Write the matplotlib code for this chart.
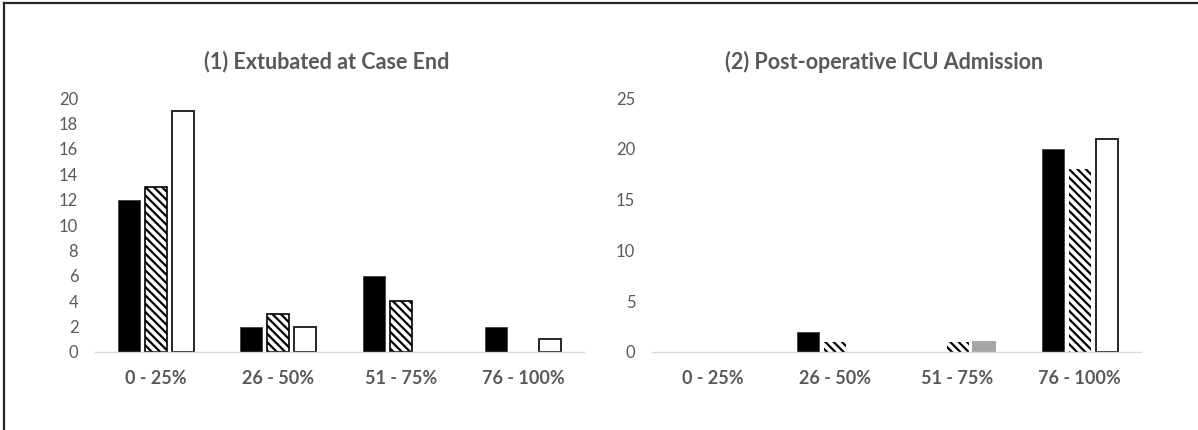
import matplotlib.pyplot as plt
from matplotlib.lines import Line2D

# Percentage bins on the x-axis
categories = ['0 - 25%', '26 - 50%', '51 - 75%', '76 - 100%']

# Panel 1: extubated at case end (counts per group)
extub_solid = [12, 2, 6, 2]
extub_hatched = [13, 3, 4, 0]
extub_open = [19, 2, 0, 1]

# Panel 2: post-operative ICU admission (counts per group)
icu_solid = [0, 2, 0, 20]
icu_hatched = [0, 1, 1, 18]
icu_open = [0, 0, 1, 21]

titles = ['(1) Extubated at Case End', '(2) Post-operative ICU Admission']
y_ticks = [list(range(0, 21, 2)), list(range(0, 26, 5))]

TEXT = '#595959'
plt.rcParams['font.family'] = ['Lato', 'DejaVu Sans']
plt.rcParams['hatch.linewidth'] = 1.6

fig = plt.figure(figsize=(11.98, 4.30), dpi=100)
ax1 = fig.add_axes([0.0793, 0.1814, 0.4082, 0.5906])
ax2 = fig.add_axes([0.5442, 0.1814, 0.4082, 0.5906])

x = list(range(len(categories)))
w = 0.18
step = 0.22


def widths(values, lw):
    # no outline for empty bars so nothing shows on the baseline
    return [lw if v > 0 else 0 for v in values]


def draw_panel(ax, solid, hatched, opened, hatch_edge, open_colors, open_edges):
    ax.bar([i - step for i in x], solid, width=w, color='black',
           edgecolor='#404040', linewidth=widths(solid, 0.6))
    ax.bar(x, hatched, width=w, color='white', edgecolor='black',
           hatch='\\\\\\\\', linewidth=widths(hatched, hatch_edge))
    ax.bar([i + step for i in x], opened, width=w, color=open_colors,
           edgecolor=open_edges, linewidth=widths(opened, 1.4))


draw_panel(ax1, extub_solid, extub_hatched, extub_open, 1.2,
           ['white'] * 4, ['#262626'] * 4)
draw_panel(ax2, icu_solid, icu_hatched, icu_open, 0,
           ['white', 'white', '#a6a6a6', 'white'],
           ['#262626', '#262626', '#a6a6a6', '#262626'])

for ax, ticks in zip([ax1, ax2], y_ticks):
    ax.set_xlim(-0.5, 3.5)
    ax.set_ylim(0, ticks[-1])
    ax.set_yticks(ticks)
    ax.set_xticks(x)
    ax.set_xticklabels(categories, fontsize=13, fontweight='bold', color=TEXT)
    ax.tick_params(axis='y', length=0, pad=12, labelsize=12, labelcolor=TEXT)
    ax.tick_params(axis='x', length=0, pad=13)
    for side in ['top', 'right', 'left']:
        ax.spines[side].set_visible(False)
    ax.spines['bottom'].set_color('#d9d9d9')
    ax.spines['bottom'].set_linewidth(1.0)

fig.text(327 / 1198, 1 - 62 / 430, titles[0], ha='center', va='center',
         fontsize=15.5, fontweight='bold', color=TEXT)
fig.text(884 / 1198, 1 - 62 / 430, titles[1], ha='center', va='center',
         fontsize=15.5, fontweight='bold', color=TEXT)

# outer frame (top and left edges only)
fig.add_artist(Line2D([0.003, 1.0], [0.993, 0.993], color='#262626', lw=1.6,
                      transform=fig.transFigure))
fig.add_artist(Line2D([0.0035, 0.0035], [0.0, 0.993], color='#262626', lw=1.6,
                      transform=fig.transFigure))

fig.savefig('out.png', dpi=100)
